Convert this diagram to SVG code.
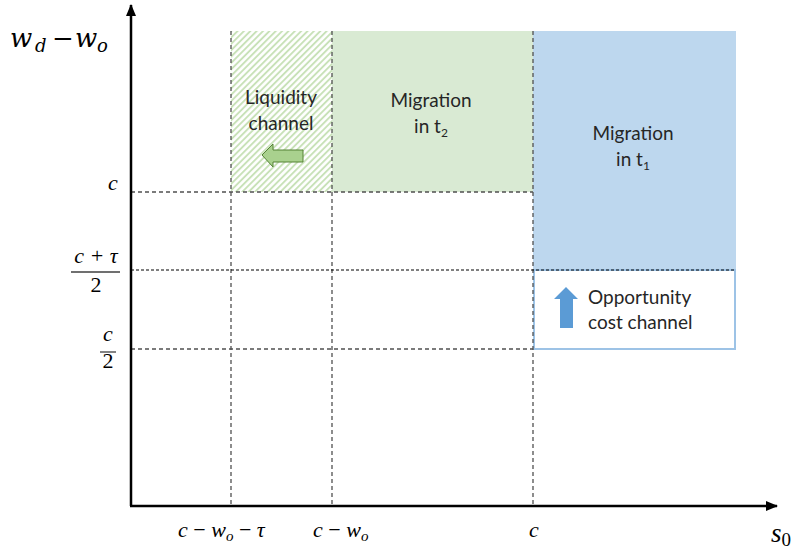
<svg xmlns="http://www.w3.org/2000/svg" width="794" height="550" viewBox="0 0 794 550">
<defs>
<pattern id="hatch" patternUnits="userSpaceOnUse" width="4.5" height="4.5" patternTransform="rotate(45)">
<rect width="4.5" height="4.5" fill="#ffffff"/>
<line x1="1" y1="0" x2="1" y2="4.5" stroke="#c5e0b4" stroke-width="1.8"/>
</pattern>
<marker id="arr" viewBox="0 0 12 10" refX="11" refY="5" markerWidth="12" markerHeight="10" markerUnits="userSpaceOnUse" orient="auto">
<path d="M0,0 L12,5 L0,10 Z" fill="#000"/>
</marker>
<style>
.lbl{font-family:Lato,"Liberation Sans",sans-serif;font-size:19px;fill:#262626;text-anchor:middle}
.math{font-family:"Liberation Serif",serif;font-style:italic;font-size:22px;fill:#000}
.up{font-family:"Liberation Serif",serif;font-size:22px;fill:#000}
.big{font-family:"DejaVu Serif",serif;font-style:italic;font-size:26px;fill:#000}
.dash{stroke:#505050;stroke-width:1.3;stroke-dasharray:4 3;fill:none}
.dashfine{stroke:#000;stroke-width:1;stroke-dasharray:3 2;fill:none}
.axis{stroke:#000;stroke-width:2.5;fill:none}
</style>
</defs>
<rect width="794" height="550" fill="#ffffff"/>

<g id="liquidity-region">
<rect x="231" y="31" width="101" height="161" fill="url(#hatch)"/>
<text class="lbl" x="281" y="104">Liquidity</text>
<text class="lbl" x="281" y="130">channel</text>
<polygon points="262,155 273,144 273,150 303,150 303,162 273,162 273,167" fill="#a9d18e" stroke="#548235" stroke-width="1"/>
</g>

<g id="migration-t2">
<rect x="332" y="31" width="201" height="161" fill="#d9ead3"/>
<text class="lbl" x="431" y="107">Migration</text>
<text class="lbl" x="431" y="133">in t<tspan font-size="12" dy="4">2</tspan></text>
</g>

<g id="migration-t1">
<rect x="533" y="31" width="203" height="239" fill="#bdd7ee"/>
<text class="lbl" x="633" y="140">Migration</text>
<text class="lbl" x="633" y="166">in t<tspan font-size="12" dy="4">1</tspan></text>
</g>

<g id="opportunity-cost">
<rect x="534" y="270" width="201" height="79" fill="#ffffff" stroke="#9dc3e6" stroke-width="2"/>
<polygon points="566,287 578,299 573,299 573,328 560,328 560,299 554,299" fill="#5b9bd5"/>
<text class="lbl" x="588" y="304" style="text-anchor:start">Opportunity</text>
<text class="lbl" x="588" y="329" style="text-anchor:start">cost channel</text>
</g>

<g id="connectors">
<line class="dash" x1="231" y1="31" x2="231" y2="506"/>
<line class="dash" x1="332" y1="31" x2="332" y2="506"/>
<line class="dash" x1="533" y1="31" x2="533" y2="506"/>
<line class="dash" x1="131" y1="192" x2="533" y2="192"/>
<line class="dashfine" x1="131" y1="270" x2="735" y2="270"/>
<line class="dash" x1="131" y1="349" x2="533" y2="349"/>
<line class="axis" x1="131" y1="506" x2="131" y2="5" marker-end="url(#arr)"/>
<line class="axis" x1="130" y1="506" x2="777" y2="506" marker-end="url(#arr)"/>
</g>

<g id="y-labels">
<text class="big" x="10" y="47">w<tspan x="35" dy="5" font-size="18">d</tspan><tspan x="52" dy="-5" font-style="normal">−</tspan><tspan x="75">w</tspan><tspan x="97" dy="5" font-size="18">o</tspan></text>
<text class="math" x="108" y="190">c</text>
<text class="math" x="96" y="263" text-anchor="middle">c + τ</text>
<line x1="71" y1="272" x2="120" y2="272" stroke="#404040" stroke-width="1.3"/>
<text class="up" x="96" y="292" text-anchor="middle">2</text>
<text class="math" x="108" y="341" text-anchor="middle">c</text>
<line x1="100" y1="352" x2="116" y2="352" stroke="#404040" stroke-width="1.3"/>
<text class="up" x="108" y="368" text-anchor="middle">2</text>
</g>

<g id="x-labels">
<text class="math" x="178" y="537">c <tspan font-style="normal">−</tspan> w<tspan font-size="15" dy="4">o</tspan><tspan dy="-4"> </tspan><tspan font-style="normal">−</tspan> τ</text>
<text class="math" x="313" y="537">c <tspan font-style="normal">−</tspan> w<tspan font-size="15" dy="4">o</tspan></text>
<text class="math" x="534" y="537" text-anchor="middle">c</text>
<text font-family="Liberation Serif, serif" font-style="italic" font-size="27" x="771" y="542">s<tspan font-style="normal" font-size="19" dy="4">0</tspan></text>
</g>
</svg>
